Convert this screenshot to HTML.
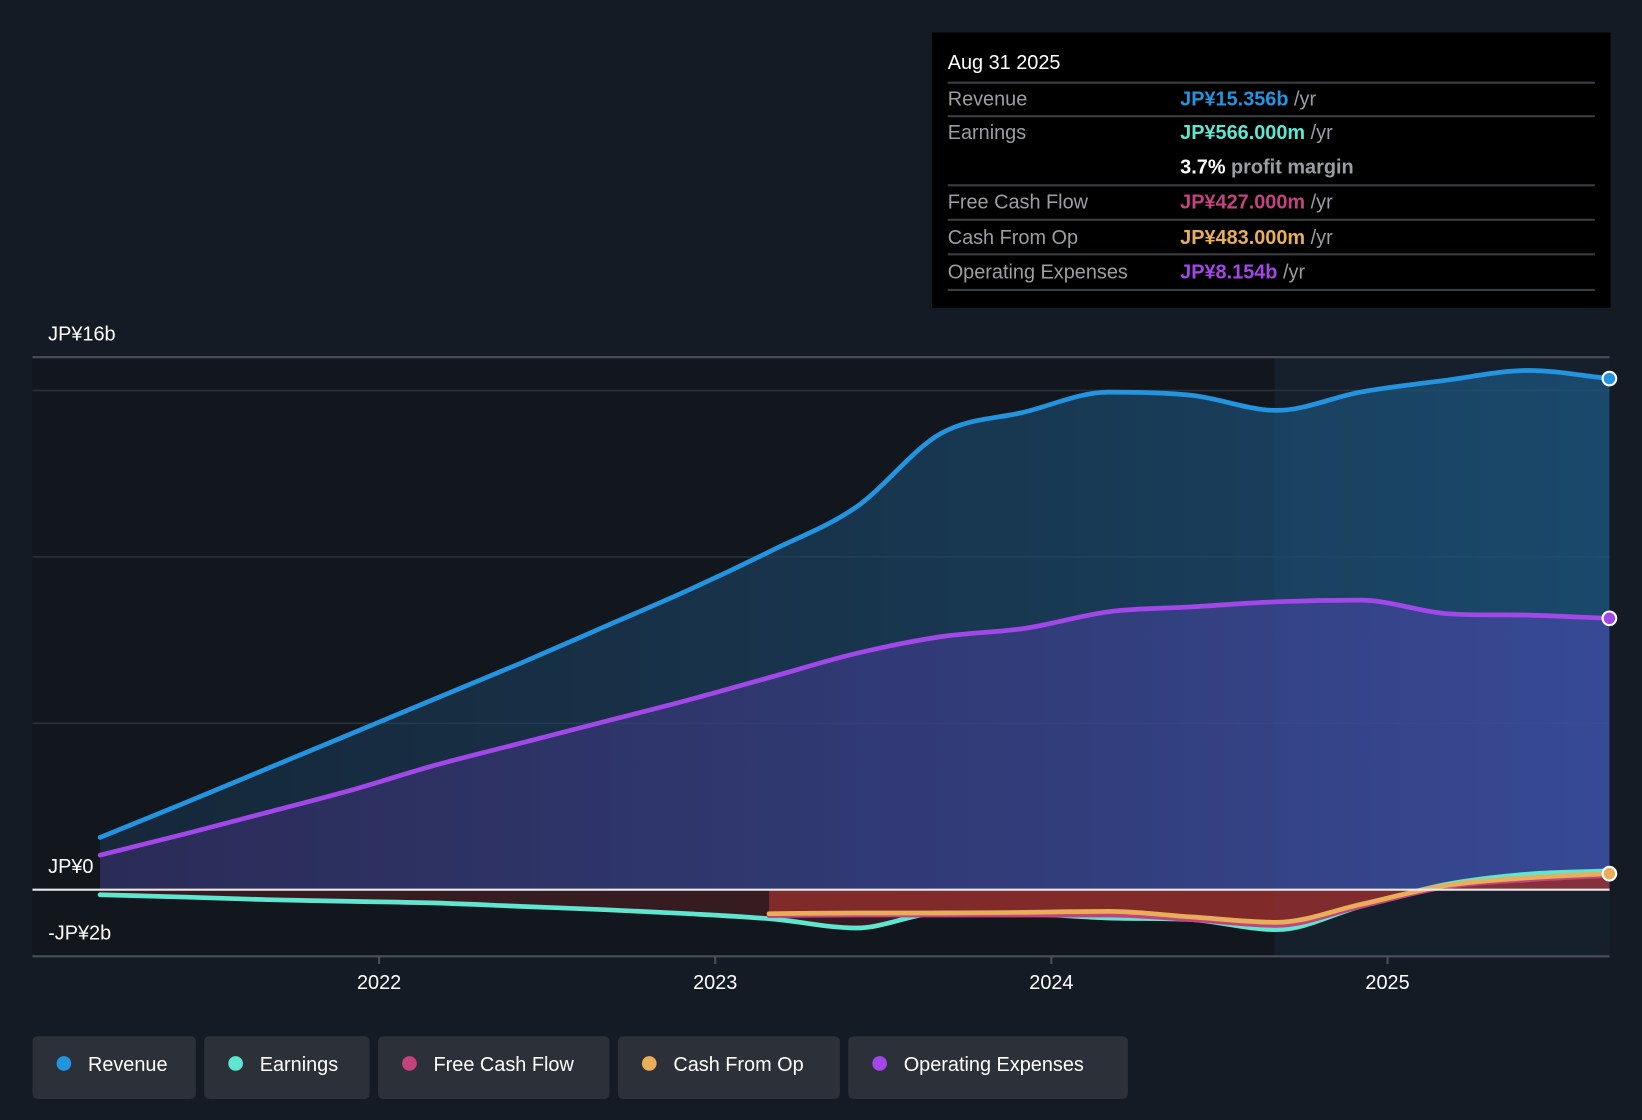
<!DOCTYPE html>
<html><head><meta charset="utf-8"><style>
html,body{margin:0;padding:0;background:#151b24;width:1642px;height:1120px;overflow:hidden}
svg{display:block;font-family:"Liberation Sans","Noto Sans CJK JP",sans-serif}
</style></head><body>
<svg id="chart" width="1642" height="1120" viewBox="0 0 1568 1070" preserveAspectRatio="none" xmlns="http://www.w3.org/2000/svg">
<defs>
<linearGradient id="gRev" x1="0" y1="0" x2="1" y2="0"><stop offset="0" stop-color="#1b3d5c" stop-opacity="0.45"/><stop offset="1" stop-color="#1d5a86" stop-opacity="0.7"/></linearGradient>
<linearGradient id="gOp" x1="0" y1="0" x2="1" y2="0"><stop offset="0" stop-color="#3b2f6e" stop-opacity="0.55"/><stop offset="1" stop-color="#4a4ab0" stop-opacity="0.6"/></linearGradient>
</defs>
<rect width="1568" height="1070" fill="#151b24"/>
<rect x="31" y="341" width="1186" height="572" fill="#12161d"/>
<rect x="1217" y="341" width="320" height="572" fill="#15202c"/>
<g id="grid"></g>
<g id="areas"></g>
<g id="lines"></g>
<g id="axes"></g>
<g>
<rect x="890" y="31" width="648" height="263" fill="#000"/>
<text x="905" y="66" fill="#fff" font-size="19">Aug 31 2025</text>
<g stroke="#3a3d42" stroke-width="2"><line x1="905" y1="79" x2="1523" y2="79"/><line x1="905" y1="111" x2="1523" y2="111"/><line x1="905" y1="177" x2="1523" y2="177"/><line x1="905" y1="210" x2="1523" y2="210"/><line x1="905" y1="243" x2="1523" y2="243"/><line x1="905" y1="277" x2="1523" y2="277"/></g>
<g font-size="19" fill="#9a9ea4">
<text x="905" y="101">Revenue</text><text x="905" y="133">Earnings</text><text x="905" y="199">Free Cash Flow</text><text x="905" y="233">Cash From Op</text><text x="905" y="266">Operating Expenses</text>
<text x="1127" y="101"><tspan fill="#2394e0" font-weight="bold">JP¥15.356b</tspan> /yr</text>
<text x="1127" y="133"><tspan fill="#5ee6d0" font-weight="bold">JP¥566.000m</tspan> /yr</text>
<text x="1127" y="166"><tspan fill="#fff" font-weight="bold">3.7%</tspan> <tspan font-weight="bold">profit margin</tspan></text>
<text x="1127" y="199"><tspan fill="#c4437f" font-weight="bold">JP¥427.000m</tspan> /yr</text>
<text x="1127" y="233"><tspan fill="#e8ae5a" font-weight="bold">JP¥483.000m</tspan> /yr</text>
<text x="1127" y="266"><tspan fill="#a348e8" font-weight="bold">JP¥8.154b</tspan> /yr</text>
</g></g>
<g id="legend" font-size="19" fill="#fff"></g>
</svg>
<script>
const NS="http://www.w3.org/2000/svg";
const qT=[2021.17,2021.42,2021.67,2021.92,2022.17,2022.42,2022.67,2022.92,2023.17,2023.42,2023.67,2023.92,2024.17,2024.42,2024.67,2024.92,2025.17,2025.42,2025.66];
const revenue=[1.57,2.6,3.65,4.7,5.75,6.8,7.9,9.0,10.2,11.5,13.7,14.35,14.95,14.85,14.4,14.95,15.3,15.6,15.356];
const opex=[1.04,1.67,2.33,3.0,3.75,4.4,5.05,5.7,6.4,7.1,7.6,7.85,8.35,8.5,8.65,8.7,8.3,8.25,8.154];
const earnings=[-0.15,-0.22,-0.3,-0.35,-0.4,-0.5,-0.6,-0.72,-0.88,-1.15,-0.7,-0.72,-0.85,-0.9,-1.2,-0.5,0.15,0.47,0.566];
const cfT=[2023.16,2023.42,2023.67,2023.92,2024.17,2024.42,2024.67,2024.92,2025.17,2025.42,2025.66];
const fcf=[-0.78,-0.76,-0.76,-0.76,-0.76,-0.9,-1.07,-0.5,0.08,0.3,0.427];
const cfo=[-0.72,-0.7,-0.7,-0.68,-0.65,-0.82,-0.98,-0.44,0.12,0.36,0.483];
const yearTicks=[2022,2023,2024,2025];
const yTickVals=[16,0,-2];
const yTickLabels=["JP¥16b","JP¥0","-JP¥2b"];
const gridVals=[15,10,5];
const X=t=>362+(t-2022)*321;
const Y=v=>850-31.8*v;
function mk(tag,attrs,parent){const e=document.createElementNS(NS,tag);for(const k in attrs)e.setAttribute(k,attrs[k]);parent.appendChild(e);return e;}
function curve(ts,vs){const p=ts.map((t,i)=>[X(t),Y(vs[i])]);const n=p.length;const m=[];const d=[];
for(let i=0;i<n-1;i++)d.push((p[i+1][1]-p[i][1])/(p[i+1][0]-p[i][0]));
for(let i=0;i<n;i++){if(i==0)m.push(d[0]);else if(i==n-1)m.push(d[n-2]);else m.push(d[i-1]*d[i]<=0?0:(d[i-1]+d[i])/2);}
let s="M"+p[0][0]+","+p[0][1];
for(let i=0;i<n-1;i++){const h=(p[i+1][0]-p[i][0])/3;s+=" C"+(p[i][0]+h)+","+(p[i][1]+m[i]*h)+" "+(p[i+1][0]-h)+","+(p[i+1][1]-m[i+1]*h)+" "+p[i+1][0]+","+p[i+1][1];}
return s;}
function area(ts,vs){return curve(ts,vs)+" L"+X(ts[ts.length-1])+","+Y(0)+" L"+X(ts[0])+","+Y(0)+" Z";}
const grid=document.getElementById('grid');
gridVals.forEach(v=>{const l=mk('line',{x1:31,x2:1537,y1:Y(v),y2:Y(v),stroke:'#2a313b','stroke-width':1.5},grid);

});
const areas=document.getElementById('areas');
let a;
a=mk('path',{d:area(qT,revenue),fill:'url(#gRev)'},areas);


a=mk('path',{d:area(qT,opex),fill:'url(#gOp)'},areas);


a=mk('path',{d:area(qT,earnings),fill:'#5a1f24','fill-opacity':0.5},areas);


a=mk('path',{d:area(cfT,fcf),fill:'#a0302f','fill-opacity':0.7},areas);


const lines=document.getElementById('lines');
const series=[[qT,revenue,'#2394e0','revenue-line'],[qT,opex,'#a348e8','opex-line'],[qT,earnings,'#5ee6d0','earnings-line'],[cfT,fcf,'#c4437f','fcf-line'],[cfT,cfo,'#e8ae5a','cfo-line']];
series.forEach(s=>{const l=mk('path',{d:curve(s[0],s[1]),fill:'none',stroke:s[2],'stroke-width':4.5,'stroke-linecap':'round'},lines);

});
[[revenue,'#2394e0','revenue-end-dot'],[opex,'#a348e8','opex-end-dot'],[cfo,'#e8ae5a','cfo-end-dot']].forEach(s=>{const c=mk('circle',{cx:X(2025.66),cy:Y(s[0][s[0].length-1]),r:6.5,fill:s[1],stroke:'#fff','stroke-width':2},lines);

});
const axes=document.getElementById('axes');
mk('line',{x1:31,x2:1537,y1:Y(16),y2:Y(16),stroke:'#4a4f57','stroke-width':2},axes);
mk('line',{x1:31,x2:1537,y1:Y(0),y2:Y(0),stroke:'#e8e8e8','stroke-width':2},axes);
mk('line',{x1:31,x2:1537,y1:Y(-2),y2:Y(-2),stroke:'#4a4f57','stroke-width':2},axes);
yTickVals.forEach((v,i)=>{const t=mk('text',{x:46,y:Y(v)-16,fill:'#fff','font-size':19},axes);t.textContent=yTickLabels[i];

});
yearTicks.forEach(yr=>{mk('line',{x1:X(yr),x2:X(yr),y1:913,y2:921,stroke:'#4a4f57','stroke-width':2},axes);
const t=mk('text',{x:X(yr),y:945,fill:'#fff','font-size':19,'text-anchor':'middle'},axes);t.textContent=yr;

});
const legendItems=[["Revenue","#2394e0",31,156],["Earnings","#5ee6d0",195,158],["Free Cash Flow","#c4437f",361,221],["Cash From Op","#e8ae5a",590,212],["Operating Expenses","#a348e8",810,267]];
const lg=document.getElementById('legend');
legendItems.forEach(it=>{const g=mk('g',{},lg);


mk('rect',{x:it[2],y:990,width:it[3],height:60,rx:5,fill:'#2c3039'},g);
mk('circle',{cx:it[2]+30,cy:1016,r:7,fill:it[1]},g);
const t=mk('text',{x:it[2]+53,y:1023},g);t.textContent=it[0];});
</script>
</body></html>
